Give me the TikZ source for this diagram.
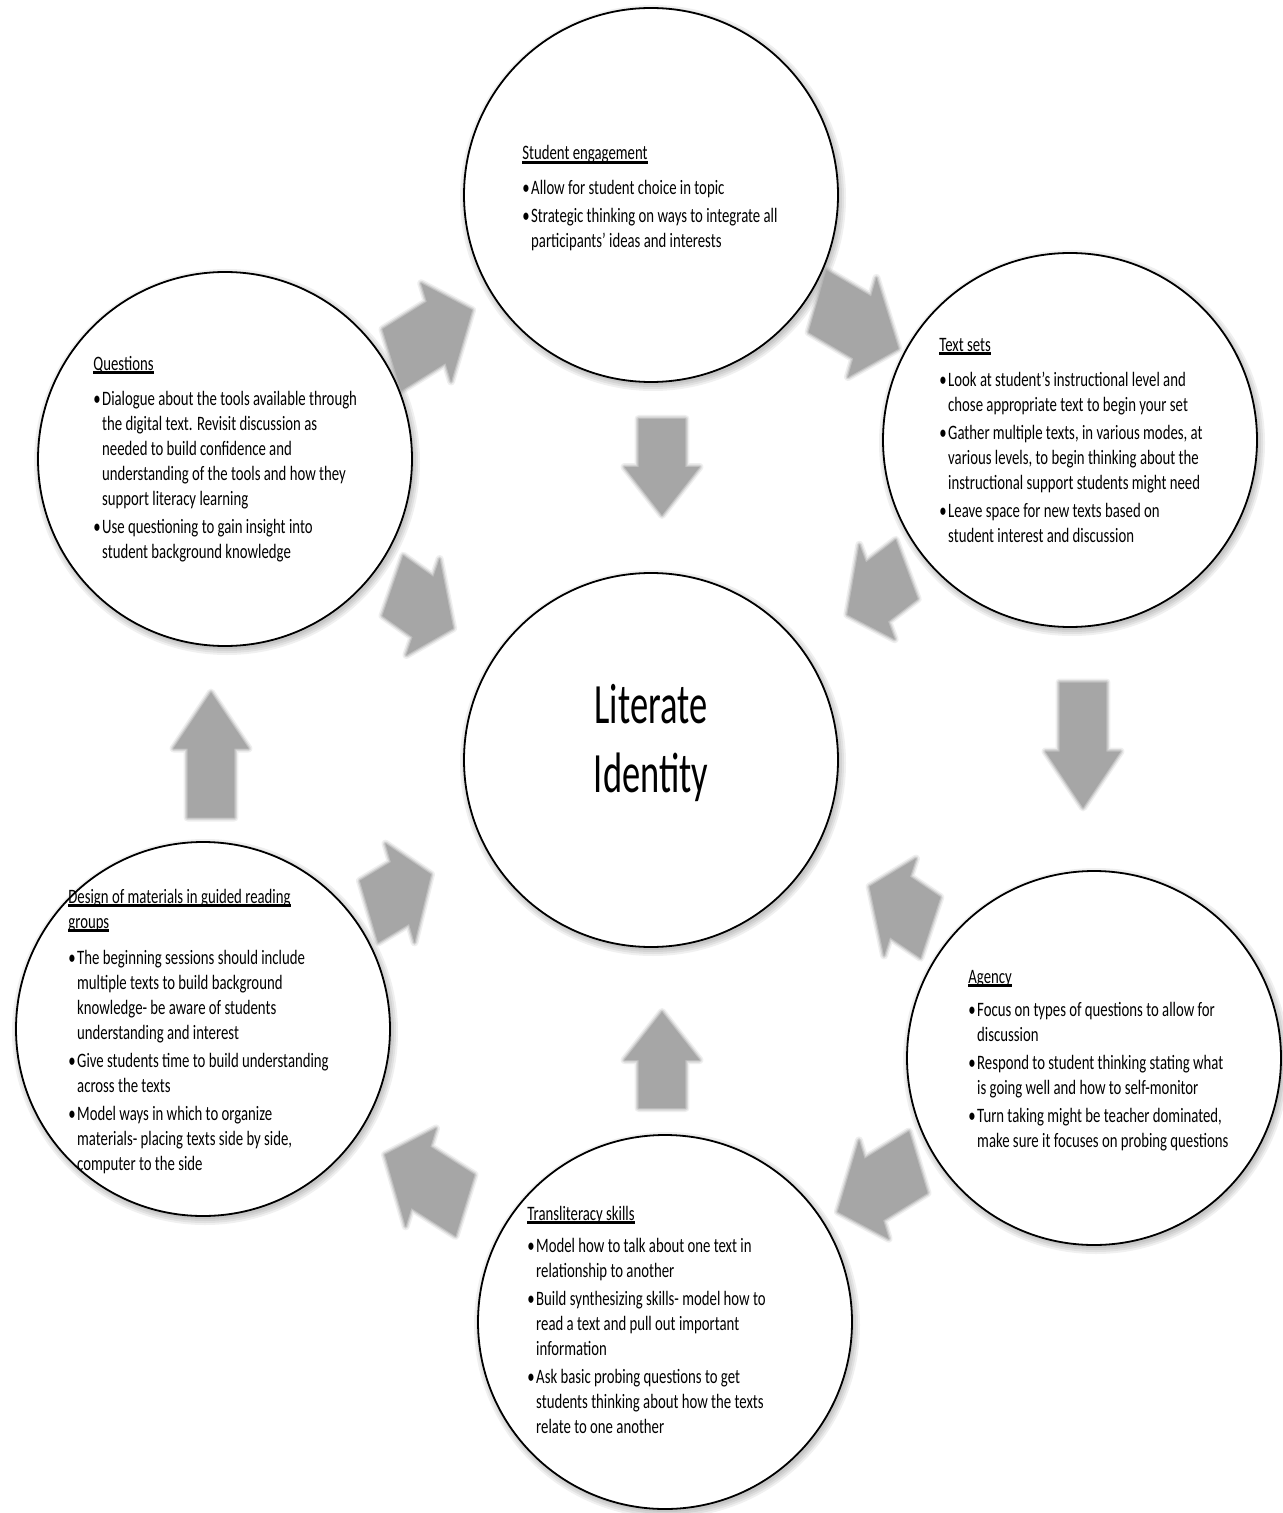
\documentclass[tikz,border=0pt]{standalone}
\usepackage{fontspec}
\setmainfont{Carlito}
\newfontfamily\smallcal{Carlito}[FakeStretch=0.72]
\newfontfamily\bigcal{Carlito}[FakeStretch=0.64]
\usetikzlibrary{calc}
\definecolor{arrowgray}{RGB}{166,166,166}
\newcommand\mytitle[1]{\setbox0\hbox{#1}\rlap{\rule[-2pt]{\wd0}{1.35pt}}\box0}
\newcommand\mybul{\makebox[4.4pt][l]{•}}
\newcommand\mycnt{\hspace*{4.4pt}}
% soft-edged block arrow: #1,#2 centre, #3 angle, #4 half length, #5 head base position
\newcommand\softarr[5]{%
  \foreach \w/\o in {4pt/0.18,2.5pt/0.3,1.2pt/0.5}{%
    \draw[arrowgray, opacity=\o, line width=\w, line join=round, shift={(#1,#2)}, xscale=0.7, rotate=#3]
      (-#4,-33.5) -- (#5,-33.5) -- (#5,-53.5) -- (#4,0) -- (#5,53.5) -- (#5,33.5) -- (-#4,33.5) -- cycle;}
  \fill[arrowgray, shift={(#1,#2)}, xscale=0.7, rotate=#3]
    (-#4,-33.5) -- (#5,-33.5) -- (#5,-53.5) -- (#4,0) -- (#5,53.5) -- (#5,33.5) -- (-#4,33.5) -- cycle;}
\newcommand\cyclearr[3]{\softarr{#1}{#2}{#3}{62.5}{6.5}}
\newcommand\inarr[3]{\softarr{#1}{#2}{#3}{48}{0}}
\begin{document}
\begin{tikzpicture}[x=0.5pt, y=-0.5pt,
  circ/.style={circle, draw=black, line width=0.9pt, fill=white, minimum size=187pt, inner sep=0pt},
  txt/.style={anchor=base west, align=left, inner sep=0pt, font={\smallcal\fontsize{10.25pt}{12.5pt}\selectfont}},
  bigtxt/.style={anchor=base, align=center, inner sep=0pt, font={\bigcal\fontsize{28.5pt}{34.5pt}\selectfont}}]
\useasboundingbox (0,0) rectangle (1283,1513);
\fill[white] (0,0) rectangle (1283,1513);

\coordinate (cQ) at (225,459);
\coordinate (cS) at (651,195);
\coordinate (cT) at (1070,440);
\coordinate (cA) at (1094,1058);
\coordinate (cR) at (665,1322);
\coordinate (cD) at (203,1029);
\coordinate (cC) at (651,760);

% soft shadows of the circles
\foreach \p in {cQ,cS,cT,cA,cR,cD,cC}{
  \foreach \r in {93.5,94.5,95.5,96.5}{
    \fill[black, opacity=0.06] ($(\p)+(2,3)$) circle[radius=\r pt];}}

% cycle arrows
\cyclearr{432}{335}{23.5}
\cyclearr{858}{325}{-22.3}
\cyclearr{1083}{745}{-90}
\cyclearr{878}{1187}{-156.7}
\cyclearr{425}{1180}{156.1}
\cyclearr{211}{755}{90}
% inward arrows
\inarr{662}{467}{-90}
\inarr{877}{592}{-151.9}
\inarr{900}{907}{154.8}
\inarr{662}{1060}{90}
\inarr{400}{893}{22.8}
\inarr{423}{607}{-26.3}

% circles
\node[circ] (Q) at (cQ) {};
\node[circ] (S) at (cS) {};
\node[circ] (T) at (cT) {};
\node[circ] (A) at (cA) {};
\node[circ] (R) at (cR) {};
\node[circ] (D) at (cD) {};
\node[circ] (C) at (cC) {};

% texts (anchored at the baseline of their last line)
\node[bigtxt] (lit) at (651,792) {Literate\\Identity};

\node[txt] (setext) at (522,248) {\mytitle{Student engagement}\\[5pt]
\mybul Allow for student choice in topic\\[1.5pt]
\mybul Strategic thinking on ways to integrate all\\
\mycnt participants’ ideas and interests};

\node[txt] (tstext) at (939,542) {\mytitle{Text sets}\\[5pt]
\mybul Look at student’s instructional level and\\
\mycnt chose appropriate text to begin your set\\[1.5pt]
\mybul Gather multiple texts, in various modes, at\\
\mycnt various levels, to begin thinking about the\\
\mycnt instructional support students might need\\[1.5pt]
\mybul Leave space for new texts based on\\
\mycnt student interest and discussion};

\node[txt] (qutext) at (93,558) {\mytitle{Questions}\\[5pt]
\mybul Dialogue about the tools available through\\
\mycnt the digital text. Revisit discussion as\\
\mycnt needed to build confidence and\\
\mycnt understanding of the tools and how they\\
\mycnt support literacy learning\\[1.5pt]
\mybul Use questioning to gain insight into\\
\mycnt student background knowledge};

\node[txt] (detext) at (68,1170) {\mytitle{Design of materials in guided reading}\\
\mytitle{groups}\\[5.5pt]
\mybul The beginning sessions should include\\
\mycnt multiple texts to build background\\
\mycnt knowledge- be aware of students\\
\mycnt understanding and interest\\[1.5pt]
\mybul Give students time to build understanding\\
\mycnt across the texts\\[1.5pt]
\mybul Model ways in which to organize\\
\mycnt materials- placing texts side by side,\\
\mycnt computer to the side};

\node[txt] (agtext) at (968,1147) {\mytitle{Agency}\\[4pt]
\mybul Focus on types of questions to allow for\\
\mycnt discussion\\[1.5pt]
\mybul Respond to student thinking stating what\\
\mycnt is going well and how to self-monitor\\[1.5pt]
\mybul Turn taking might be teacher dominated,\\
\mycnt make sure it focuses on probing questions};

\node[txt] (trtext) at (527,1433) {\mytitle{Transliteracy skills}\\[3.5pt]
\mybul Model how to talk about one text in\\
\mycnt relationship to another\\[1.5pt]
\mybul Build synthesizing skills- model how to\\
\mycnt read a text and pull out important\\
\mycnt information\\[1.5pt]
\mybul Ask basic probing questions to get\\
\mycnt students thinking about how the texts\\
\mycnt relate to one another};
\end{tikzpicture}
\end{document}
